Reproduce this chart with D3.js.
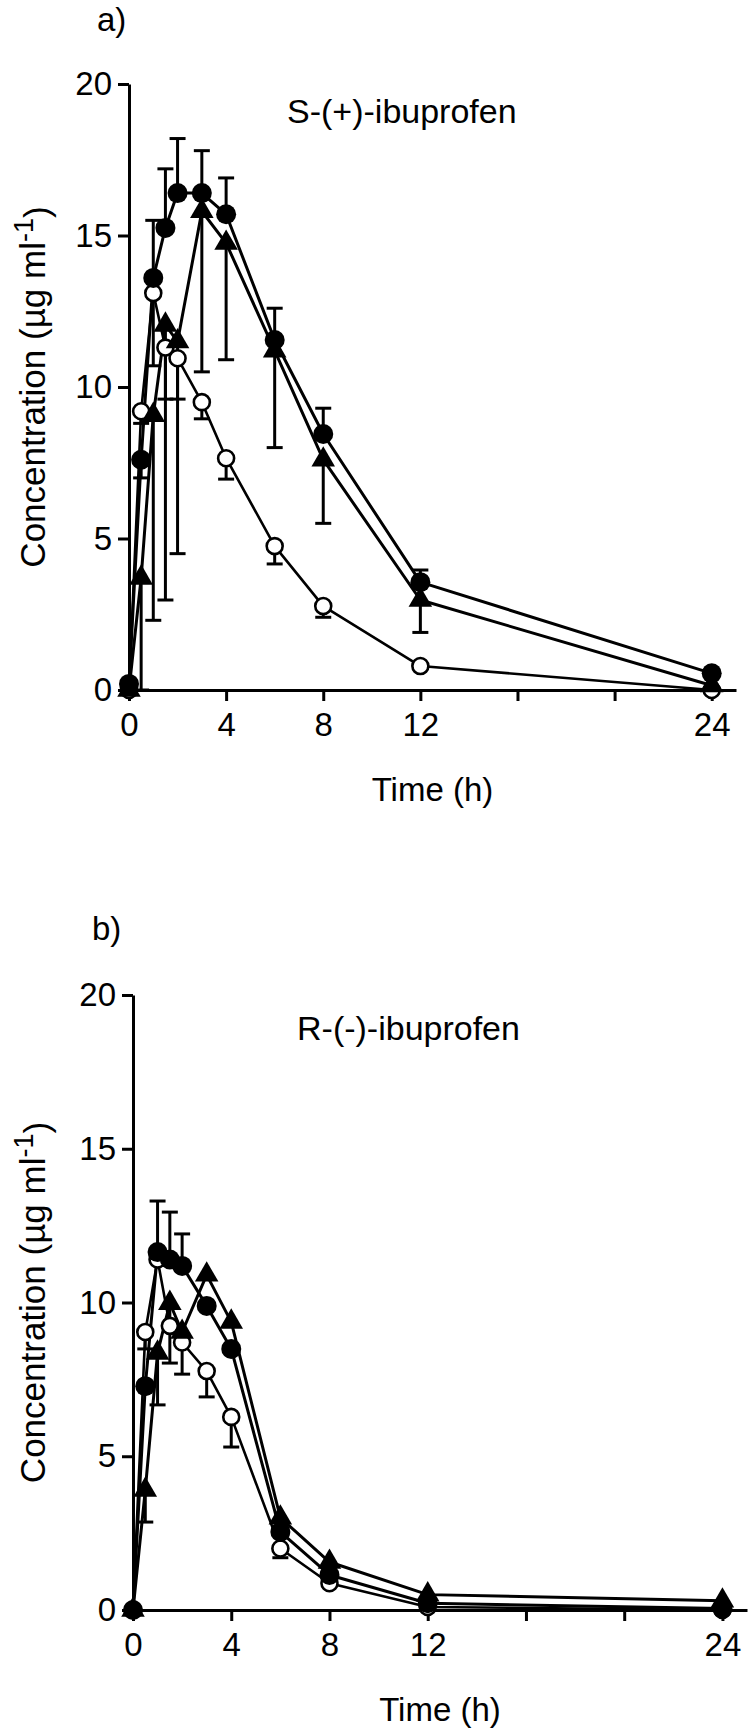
<!DOCTYPE html>
<html>
<head>
<meta charset="utf-8">
<script src="https://cdn.jsdelivr.net/npm/d3@7"></script>
<style>
  body { margin: 0; background: #fff; }
  text { font-family: "Liberation Sans", Arial, sans-serif; fill: #000; }
</style>
</head>
<body>
<div id="chart"></div>
<script>
// sampling times (h)
const times = [0, 0.5, 1, 1.5, 2, 3, 4, 6, 8, 12, 24];

const xTickValues = [0, 4, 8, 12, 16, 20, 24];
const xTickLabels = ["0", "4", "8", "12", "", "", "24"];
const yTickValues = [0, 5, 10, 15, 20];

// a) S-(+)-ibuprofen
const sFilled   = [0.2, 7.6, 13.6, 15.25, 16.4, 16.4, 15.7, 11.55, 8.45, 3.56, 0.55];
const sFilledLo = [null, 7.0, null, null, null, null, null, null, null, null, null];
const sFilledHi = [null, null, 15.5, 17.2, 18.2, 17.8, 16.9, 12.6, 9.3, 3.96, null];
const sTri      = [0, 3.7, 9.07, 12.05, 11.5, 15.8, 14.75, 11.2, 7.6, 2.97, 0.15];
const sTriLo    = [null, 0, 2.3, 2.97, 4.5, 10.5, 10.9, 8.0, 5.5, 1.9, null];
const sOpen     = [0, 9.2, 13.1, 11.3, 10.95, 9.5, 7.65, 4.75, 2.77, 0.79, 0];
const sOpenLo   = [null, 8.8, 10.7, 9.6, 9.6, 8.95, 6.96, 4.16, 2.4, null, null];

// b) R-(-)-ibuprofen
const rFilled   = [0, 7.28, 11.64, 11.4, 11.19, 9.89, 8.49, 2.54, 1.14, 0.22, 0.05];
const rFilledHi = [null, null, 13.3, 12.94, 12.23, null, null, null, null, null, null];
const rTri      = [0, 3.9, 8.36, 9.98, 9.04, 10.9, 9.37, 3.0, 1.56, 0.5, 0.3];
const rTriLo    = [null, 2.86, 6.67, 8.03, null, null, null, null, null, null, null];
const rOpen     = [0, 9.04, 11.4, 9.24, 8.7, 7.77, 6.28, 2.0, 0.87, 0.1, 0];
const rOpenLo   = [null, 8.49, null, null, 7.67, 6.93, 5.3, 1.7, null, null, null];

const svg = d3.select("#chart").append("svg")
    .attr("width", 750)
    .attr("height", 1734);

const panels = [
    {
        label: "a)", name: "S-(+)-ibuprofen",
        left: 129, right: 736, top: 84, bottom: 690,
        labelX: 97, labelY: 31, nameX: 287, nameY: 123,
        series: [
            { shape: "open", values: sOpen, lo: sOpenLo, hi: null },
            { shape: "tri", values: sTri, lo: sTriLo, hi: null },
            { shape: "filled", values: sFilled, lo: sFilledLo, hi: sFilledHi }
        ]
    },
    {
        label: "b)", name: "R-(-)-ibuprofen",
        left: 133, right: 747, top: 995, bottom: 1610,
        labelX: 92, labelY: 940, nameX: 297, nameY: 1040,
        series: [
            { shape: "open", values: rOpen, lo: rOpenLo, hi: null },
            { shape: "tri", values: rTri, lo: rTriLo, hi: null },
            { shape: "filled", values: rFilled, lo: null, hi: rFilledHi }
        ]
    }
];

panels.forEach(p => {
    const g = svg.append("g");

    const x = d3.scaleLinear().domain([0, 25]).range([p.left, p.right]);
    const y = d3.scaleLinear().domain([0, 20]).range([p.bottom, p.top]);

    // axes
    const xAxis = g.append("g")
        .attr("transform", `translate(0,${p.bottom})`)
        .call(d3.axisBottom(x)
            .tickValues(xTickValues)
            .tickFormat((d, i) => xTickLabels[i])
            .tickSize(11).tickSizeOuter(0).tickPadding(12));

    const yAxis = g.append("g")
        .attr("transform", `translate(${p.left},0)`)
        .call(d3.axisLeft(y)
            .tickValues(yTickValues)
            .tickSize(11).tickSizeOuter(0).tickPadding(6));

    [xAxis, yAxis].forEach(ax => {
        ax.select(".domain").attr("stroke", "#000").attr("stroke-width", 3);
        ax.selectAll(".tick line").attr("stroke", "#000").attr("stroke-width", 3);
        ax.selectAll(".tick text")
            .style("font-size", "33px")
            .style("font-family", "'Liberation Sans', Arial, sans-serif");
    });
    xAxis.selectAll(".tick text").attr("dy", "0.71em");

    // labels
    g.append("text")
        .attr("x", p.labelX).attr("y", p.labelY)
        .style("font-size", "33px")
        .text(p.label);

    g.append("text")
        .attr("x", p.nameX).attr("y", p.nameY)
        .style("font-size", "34px")
        .text(p.name);

    g.append("text")
        .attr("x", (p.left + p.right) / 2)
        .attr("y", p.bottom + 111)
        .attr("text-anchor", "middle")
        .style("font-size", "33px")
        .text("Time (h)");

    const yt = g.append("text")
        .attr("transform", `translate(45,${(p.top + p.bottom) / 2}) rotate(-90)`)
        .attr("text-anchor", "middle")
        .style("font-size", "35px");
    yt.append("tspan").text("Concentration (µg ml");
    yt.append("tspan").attr("dy", "-0.45em").style("font-size", "27px").text("-1");
    yt.append("tspan").attr("dy", "0.45em").text(")");

    // error bars
    const cap = 8;
    p.series.forEach(s => {
        [s.lo, s.hi].forEach(ends => {
            if (!ends) return;
            ends.forEach((e, i) => {
                if (e === null) return;
                const cx = x(times[i]);
                g.append("line")
                    .attr("x1", cx).attr("x2", cx)
                    .attr("y1", y(s.values[i])).attr("y2", y(e))
                    .attr("stroke", "#000").attr("stroke-width", 3);
                g.append("line")
                    .attr("x1", cx - cap).attr("x2", cx + cap)
                    .attr("y1", y(e)).attr("y2", y(e))
                    .attr("stroke", "#000").attr("stroke-width", 3);
            });
        });
    });

    // lines
    const line = d3.line()
        .x((d, i) => x(times[i]))
        .y(d => y(d));

    p.series.forEach(s => {
        g.append("path")
            .datum(s.values)
            .attr("fill", "none")
            .attr("stroke", "#000")
            .attr("stroke-width", s.shape === "open" ? 2.6 : 3)
            .attr("stroke-linejoin", "round")
            .attr("d", line);
    });

    // markers
    const tri = d3.symbol(d3.symbolTriangle).size(240);
    p.series.forEach(s => {
        s.values.forEach((v, i) => {
            const cx = x(times[i]), cy = y(v);
            if (s.shape === "open") {
                g.append("circle")
                    .attr("cx", cx).attr("cy", cy).attr("r", 8)
                    .attr("fill", "#fff").attr("stroke", "#000").attr("stroke-width", 2.6);
            } else if (s.shape === "tri") {
                g.append("path")
                    .attr("d", tri())
                    .attr("transform", `translate(${cx},${cy})`)
                    .attr("fill", "#000");
            } else {
                g.append("circle")
                    .attr("cx", cx).attr("cy", cy).attr("r", 10)
                    .attr("fill", "#000");
            }
        });
    });
});
</script>
</body>
</html>
